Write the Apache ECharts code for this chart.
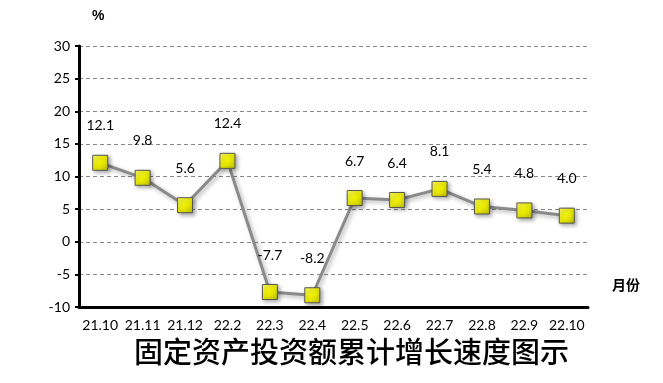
<!DOCTYPE html>
<html><head><meta charset="utf-8">
<script src="https://cdn.jsdelivr.net/npm/echarts@6/dist/echarts.min.js"></script>
<style>html,body{margin:0;padding:0;background:#fff}#c{width:663px;height:383px}</style>
</head><body><div id="c"></div>
<script>
const categories = ['21.10','21.11','21.12','22.2','22.3','22.4','22.5','22.6','22.7','22.8','22.9','22.10'];
const growth = [12.1, 9.8, 5.6, 12.4, -7.7, -8.2, 6.7, 6.4, 8.1, 5.4, 4.8, 4.0];
const yMin = -10, yMax = 30, yStep = 5;
const titleText = '固定资产投资额累计增长速度图示';

const chart = echarts.init(document.getElementById('c'));
const font = 'Lato, "Noto Sans", sans-serif';
chart.setOption({
  animation: false,
  grid: {left: 79, right: 75, top: 46, bottom: 76},
  graphic: [
    {type: 'text', left: 92, top: 9, style: {text: '%', font: 'bold 14px "Liberation Sans", sans-serif', fill: '#000'}},
    {type: 'text', left: 612, top: 278, style: {text: '月份', font: 'bold 14px "Noto Sans CJK SC", sans-serif', fill: '#000'}},
    {type: 'text', left: 134, top: 337, style: {text: titleText, font: '500 29px "Noto Sans CJK SC", serif', fill: '#000'}}
  ],
  xAxis: {
    type: 'category', data: categories, boundaryGap: true,
    axisLine: {onZero: false, lineStyle: {color: '#000', width: 3}},
    axisTick: {show: false},
    axisLabel: {interval: 0, color: '#000', fontSize: 14, fontFamily: font, margin: 11}
  },
  yAxis: {
    type: 'value', min: yMin, max: yMax, interval: yStep,
    axisLine: {show: true, lineStyle: {color: '#000', width: 3}},
    axisTick: {show: true, length: 4, lineStyle: {color: '#000', width: 2}},
    axisLabel: {color: '#000', fontSize: 14, fontFamily: font, margin: 9},
    splitLine: {lineStyle: {color: '#888', type: [4, 3], width: 1}}
  },
  series: [{
    type: 'line', data: growth,
    symbol: 'rect', symbolSize: 15,
    lineStyle: {color: '#8a8a8a', width: 3, shadowColor: 'rgba(0,0,0,0.3)', shadowBlur: 4, shadowOffsetX: 2, shadowOffsetY: 2},
    itemStyle: {
      color: new echarts.graphic.LinearGradient(0, 0, 1, 1, [
        {offset: 0, color: '#ffff66'}, {offset: 0.5, color: '#f0f000'}, {offset: 1, color: '#b8b800'}]),
      borderColor: '#555', borderWidth: 1,
      shadowColor: 'rgba(0,0,0,0.35)', shadowBlur: 4, shadowOffsetX: 2, shadowOffsetY: 2
    },
    label: {show: true, position: 'top', distance: 22, color: '#000', fontSize: 14, fontFamily: font,
      formatter: p => p.value.toFixed(1)}
  }]
});
</script></body></html>
